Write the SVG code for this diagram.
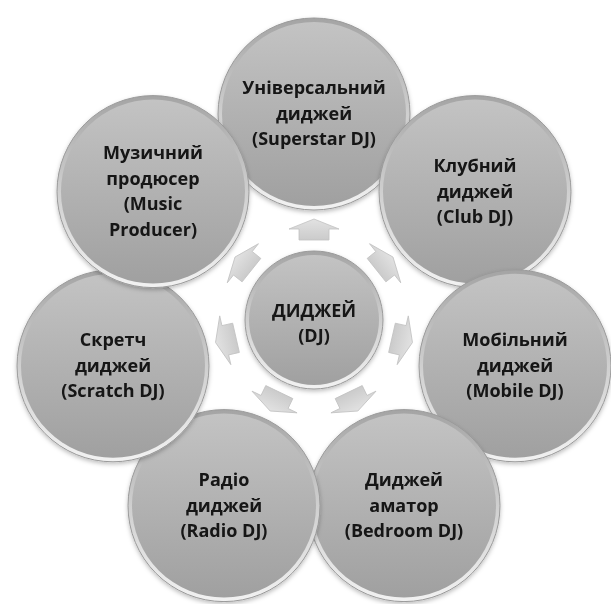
<svg xmlns="http://www.w3.org/2000/svg" width="611" height="604" viewBox="0 0 611 604">
<style>
.rim{fill:url(#rimG);stroke:#9a9a9a;stroke-width:1}
.body{fill:url(#bodyG)}
.lbl{font-family:"Open Sans","Noto Sans","DejaVu Sans",sans-serif;font-weight:700;font-size:18px;fill:#141414;text-anchor:middle}
.arr{fill:url(#arrG);stroke:#c2c2c2;stroke-width:0.8}
</style>
<defs>
<linearGradient id="rimG" x1="0" y1="0" x2="0" y2="1">
<stop offset="0" stop-color="#a4a4a4"/>
<stop offset="0.5" stop-color="#cfcfcf"/>
<stop offset="1" stop-color="#f2f2f2"/>
</linearGradient>
<linearGradient id="bodyG" x1="0" y1="0" x2="0" y2="1">
<stop offset="0" stop-color="#c3c3c3"/>
<stop offset="1" stop-color="#a0a0a0"/>
</linearGradient>
<linearGradient id="arrG" x1="0" y1="0" x2="0" y2="1">
<stop offset="0" stop-color="#e2e2e2"/>
<stop offset="1" stop-color="#cbcbcb"/>
</linearGradient>
<filter id="sh" x="-20%" y="-20%" width="140%" height="140%">
<feDropShadow dx="0" dy="2" stdDeviation="2" flood-color="#000" flood-opacity="0.25"/>
</filter>
<path id="arrow" d="M0,-101 L25,-91 L15,-91 L15,-80 L-15,-80 L-15,-91 L-25,-91 Z"/>
</defs>
<rect width="611" height="604" fill="#fff"/>

<g id="connectors">
<use href="#arrow" class="arr" transform="translate(314,320) rotate(0)"/>
<use href="#arrow" class="arr" transform="translate(314,320) rotate(51.43)"/>
<use href="#arrow" class="arr" transform="translate(314,320) rotate(102.86)"/>
<use href="#arrow" class="arr" transform="translate(314,320) rotate(154.29)"/>
<use href="#arrow" class="arr" transform="translate(314,320) rotate(205.71)"/>
<use href="#arrow" class="arr" transform="translate(314,320) rotate(257.14)"/>
<use href="#arrow" class="arr" transform="translate(314,320) rotate(308.57)"/>
</g>

<g id="center" filter="url(#sh)">
<circle class="rim" cx="314" cy="320" r="69"/>
<circle class="body" cx="314" cy="320" r="65"/>
<text class="lbl" x="314" y="317">ДИДЖЕЙ</text>
<text class="lbl" x="314" y="342">(DJ)</text>
</g>

<g id="superstar" filter="url(#sh)">
<circle class="rim" cx="314" cy="114" r="96"/>
<circle class="body" cx="314" cy="114" r="92"/>
<text class="lbl" x="314" y="94">Універсальний</text>
<text class="lbl" x="314" y="119.5">диджей</text>
<text class="lbl" x="314" y="145">(Superstar DJ)</text>
</g>

<g id="club" filter="url(#sh)">
<circle class="rim" cx="475" cy="191.6" r="96"/>
<circle class="body" cx="475" cy="191.6" r="92"/>
<text class="lbl" x="475" y="172">Клубний</text>
<text class="lbl" x="475" y="197.5">диджей</text>
<text class="lbl" x="475" y="223">(Club DJ)</text>
</g>

<g id="mobile" filter="url(#sh)">
<circle class="rim" cx="515" cy="365.8" r="96"/>
<circle class="body" cx="515" cy="365.8" r="92"/>
<text class="lbl" x="515" y="346">Мобільний</text>
<text class="lbl" x="515" y="371.5">диджей</text>
<text class="lbl" x="515" y="397">(Mobile DJ)</text>
</g>

<g id="bedroom" filter="url(#sh)">
<circle class="rim" cx="404" cy="505.6" r="96"/>
<circle class="body" cx="404" cy="505.6" r="92"/>
<text class="lbl" x="404" y="486">Диджей</text>
<text class="lbl" x="404" y="511.5">аматор</text>
<text class="lbl" x="404" y="537">(Bedroom DJ)</text>
</g>

<g id="radio" filter="url(#sh)">
<circle class="rim" cx="224" cy="505.6" r="96"/>
<circle class="body" cx="224" cy="505.6" r="92"/>
<text class="lbl" x="224" y="486">Радіо</text>
<text class="lbl" x="224" y="511.5">диджей</text>
<text class="lbl" x="224" y="537">(Radio DJ)</text>
</g>

<g id="scratch" filter="url(#sh)">
<circle class="rim" cx="113" cy="365.8" r="96"/>
<circle class="body" cx="113" cy="365.8" r="92"/>
<text class="lbl" x="113" y="346">Скретч</text>
<text class="lbl" x="113" y="371.5">диджей</text>
<text class="lbl" x="113" y="397">(Scratch DJ)</text>
</g>

<g id="producer" filter="url(#sh)">
<circle class="rim" cx="153" cy="191.6" r="96"/>
<circle class="body" cx="153" cy="191.6" r="92"/>
<text class="lbl" x="153" y="159">Музичний</text>
<text class="lbl" x="153" y="184.5">продюсер</text>
<text class="lbl" x="153" y="210">(Music</text>
<text class="lbl" x="153" y="235.5">Producer)</text>
</g>
</svg>
